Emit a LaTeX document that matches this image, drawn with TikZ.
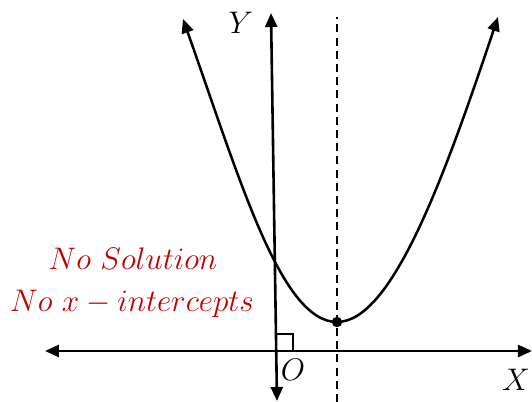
\RequirePackage{fix-cm}
\documentclass[tikz,border=0pt]{standalone}
\usepackage{amsmath,amssymb}
\usepackage{xcolor}
\usetikzlibrary{arrows.meta,calc,positioning}
\definecolor{nored}{RGB}{192,0,0}

\begin{document}
\begin{tikzpicture}[x=0.5pt,y=-0.5pt,>={Triangle[length=7pt,width=6pt]}]
  \useasboundingbox (0,0) rectangle (532,402);
  \tikzset{axis/.style={line width=1.3pt,<->},lbl/.style={font=\fontsize{15.6}{19}\selectfont}}
  % axes
  \coordinate (xl) at (45,351); \coordinate (xr) at (532,351);
  \coordinate (yb) at (277,401); \coordinate (yt) at (271,13);
  \draw[axis] (xl)--(xr); \draw[axis] (yb)--(yt);
  \draw[line width=0.8pt] (276.5,351)--(276.5,334)--(293,334)--(293,351);
  % symmetry line and curve
  \coordinate (vtx) at (337,322); \coordinate (lt) at (183,19); \coordinate (rt) at (498,17);
  \draw[line width=0.75pt,dash pattern=on 4pt off 2.6pt] (337,402)--(337,17);
  \draw[line width=1.25pt,<->] (lt) .. controls (240,180) and (281,322) .. (vtx) .. controls (392,322) and (444,178) .. (rt);
  \fill (vtx) circle (2.6pt);
  % labels
  \node[lbl] (ylab) at (241,23) {$Y$};
  \node[lbl] (olab) at (293,370) {$O$};
  \node[lbl] (xlab) at (516,380) {$X$};
  \node[lbl,nored,anchor=base] (msga) at (133,269) {$No\ Solution$};
  \node[lbl,nored,anchor=base] (msgb) at (132,311) {$No\ x-intercepts$};
\end{tikzpicture}
\end{document}
